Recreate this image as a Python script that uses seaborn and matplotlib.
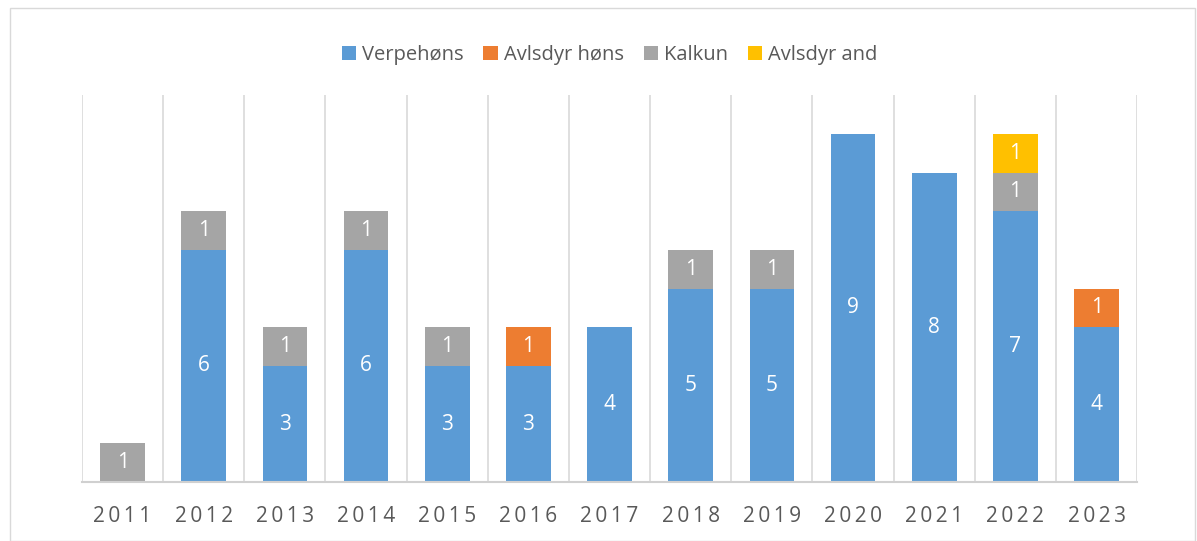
import numpy as np
import pandas as pd
import matplotlib.pyplot as plt
import seaborn as sns
from matplotlib.patches import Rectangle

years = ['2011', '2012', '2013', '2014', '2015', '2016', '2017',
         '2018', '2019', '2020', '2021', '2022', '2023']
verpehons = [0, 6, 3, 6, 3, 3, 4, 5, 5, 9, 8, 7, 4]
avlsdyr_hons = [0, 0, 0, 0, 0, 1, 0, 0, 0, 0, 0, 0, 1]
kalkun = [1, 1, 1, 1, 1, 0, 0, 1, 1, 0, 0, 1, 0]
avlsdyr_and = [0, 0, 0, 0, 0, 0, 0, 0, 0, 0, 0, 1, 0]

series = [('Verpehøns', verpehons, '#5B9BD5'),
          ('Avlsdyr høns', avlsdyr_hons, '#ED7D31'),
          ('Kalkun', kalkun, '#A5A5A5'),
          ('Avlsdyr and', avlsdyr_and, '#FFC000')]

sns.set_style('white')
plt.rcParams['font.family'] = ['Open Sans', 'DejaVu Sans']

fig = plt.figure(figsize=(11.97, 5.41), dpi=100)
ax = fig.add_axes([0.0685, 0.109, 0.8815, 0.715])

df = pd.DataFrame({'year': years})
bottom = np.zeros(len(years))
for name, vals, col in series:
    df['v'] = vals
    sns.barplot(data=df, x='year', y='v', color=col, width=0.55,
                bottom=bottom, ax=ax, label=name, saturation=1, linewidth=0)
    for i, v in enumerate(vals):
        if v > 0:
            ax.text(i, bottom[i] + v / 2, str(v), ha='center', va='center',
                    color='white', fontsize=15)
    bottom = bottom + np.array(vals)

ax.set_ylim(0, 10)
ax.set_xlim(-0.5, len(years) - 0.5)
ax.vlines(np.arange(-0.5, len(years)), 0, 10, color='#D9D9D9', lw=1.2, zorder=0)
for s in ['top', 'right', 'left']:
    ax.spines[s].set_visible(False)
ax.spines['bottom'].set_color('#D0D0D0')
ax.spines['bottom'].set_linewidth(1.5)
ax.set_yticks([])
ax.set_xlabel('')
ax.set_ylabel('')
ax.set_xticks(range(len(years)))
ax.set_xticklabels(['\u2009'.join(y) for y in years], fontsize=15, color='#595959')
ax.tick_params(axis='x', length=0, pad=17)

ax.legend(loc='lower center', bbox_to_anchor=(0.5, 1.03), ncol=4, frameon=False,
          fontsize=14.5, labelcolor='#595959', handlelength=0.7, handleheight=0.7,
          handletextpad=0.3, columnspacing=1.0)

fig.patches.append(Rectangle((0.008, 0.0), 0.99, 0.985, transform=fig.transFigure,
                             fill=False, edgecolor='#D9D9D9', lw=1))

fig.savefig('out.png', dpi=100)
